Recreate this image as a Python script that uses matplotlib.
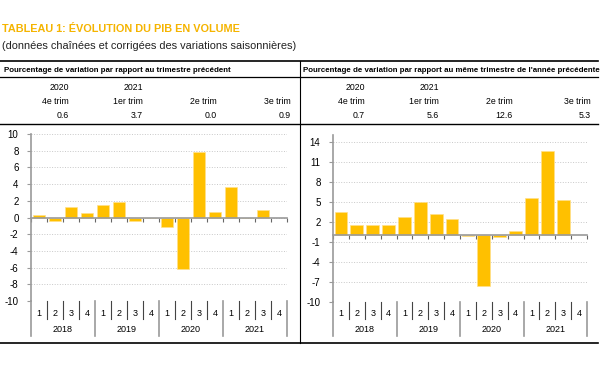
import numpy as np
import matplotlib
matplotlib.use("Agg")
import matplotlib.pyplot as plt
import matplotlib.transforms as mtransforms

# data
years = ["2018", "2019", "2020", "2021"]
quarters = ["1", "2", "3", "4"]
qoq = [0.3, -0.4, 1.2, 0.5, 1.5, 1.8, -0.4, -0.1, -1.1, -6.2, 7.8, 0.6, 3.7, 0.0, 0.9, np.nan]
yoy = [3.5, 1.6, 1.5, 1.6, 2.7, 4.9, 3.1, 2.5, -0.1, -7.6, -0.2, 0.7, 5.6, 12.6, 5.3, np.nan]

head_years = ["2020", "2021", "", ""]
head_trims = ["4e trim", "1er trim", "2e trim", "3e trim"]
head_qoq = ["0.6", "3.7", "0.0", "0.9"]
head_yoy = ["0.7", "5.6", "12.6", "5.3"]

W, H = 600, 382
plt.rcParams["font.family"] = ["Liberation Sans", "DejaVu Sans"]

fig = plt.figure(figsize=(W / 100, H / 100), dpi=100)


def fx(x):
    return x / W


def fy(y):
    return 1 - y / H


gold = "#F5B400"
bar_col = "#FFC000"
grey = "#9A9A9A"

fig.text(fx(2), fy(29), "TABLEAU 1: ÉVOLUTION DU PIB EN VOLUME", color=gold,
         fontsize=7.8, fontweight="bold", va="center", ha="left")
fig.text(fx(2), fy(46), "(données chaînées et corrigées des variations saisonnières)",
         color="#222222", fontsize=7.9, va="center", ha="left")

# table rules
for y, lw in [(61, 1.2), (77, 0.9), (124, 1.0), (343, 1.2)]:
    fig.add_artist(plt.Line2D([fx(0), fx(598)], [fy(y), fy(y)], color="black", lw=lw))
fig.add_artist(plt.Line2D([fx(300), fx(300)], [fy(61), fy(343)], color="black", lw=0.8))

fig.text(fx(4), fy(70), "Pourcentage de variation par rapport au trimestre précédent",
         fontsize=5.7, fontweight="bold", va="center", ha="left")
fig.text(fx(303), fy(70), "Pourcentage de variation par rapport au même trimestre de l'année précédente",
         fontsize=5.7, fontweight="bold", va="center", ha="left")

col_left = [69, 143, 217, 291]
col_right = [365, 439, 513, 591]
for cols, vals in [(col_left, head_qoq), (col_right, head_yoy)]:
    for c, yr, tr, v in zip(cols, head_years, head_trims, vals):
        fig.text(fx(c), fy(88), yr, fontsize=6.3, ha="right", va="center")
        fig.text(fx(c), fy(101), tr, fontsize=6.3, ha="right", va="center")
        fig.text(fx(c), fy(115), v, fontsize=6.3, ha="right", va="center")


def panel(rect, values, ylim, yticks):
    x0, x1, y0, y1 = rect
    ax = fig.add_axes([fx(x0), fy(y1), fx(x1 - x0), (y1 - y0) / H])
    x = np.arange(len(values))
    ax.bar(x, values, width=0.8, color=bar_col, edgecolor="#FFE08A", linewidth=0.5, zorder=3)
    ax.set_xlim(-0.5, len(values) - 0.5)
    ax.set_ylim(*ylim)
    ax.set_yticks(yticks)
    ax.set_yticklabels([str(t) for t in yticks], fontsize=7)
    ax.grid(axis="y", linestyle=":", color="#C8C8C8", linewidth=0.7)
    for s in ["top", "right"]:
        ax.spines[s].set_visible(False)
    ax.spines["left"].set_color(grey)
    ax.spines["left"].set_linewidth(1.2)
    ax.spines["bottom"].set_position(("data", 0))
    ax.spines["bottom"].set_color(grey)
    ax.spines["bottom"].set_linewidth(1.2)
    ax.spines["bottom"].set_zorder(4)
    ax.set_xticks(np.arange(len(values) + 1) - 0.5)
    ax.set_xticklabels([])
    ax.tick_params(axis="x", direction="out", length=3, color="#666666", width=0.8)
    ax.tick_params(axis="y", length=3, color=grey, pad=6)
    ax.set_facecolor("none")

    # category labels below axes
    tr = mtransforms.blended_transform_factory(ax.transData, fig.transFigure)
    for i in range(len(values)):
        ax.text(i, fy(313), quarters[i % 4], transform=tr, fontsize=6.5, ha="center", va="center")
    for j, yr in enumerate(years):
        ax.text(j * 4 + 1.5, fy(330), yr, transform=tr, fontsize=6.5, ha="center", va="center")
    for k in range(len(values) + 1):
        bottom = 336 if k % 4 == 0 else 319
        col = grey if k % 4 == 0 else "#444444"
        lw = 1.2 if k % 4 == 0 else 0.8
        ax.plot([k - 0.5, k - 0.5], [fy(y1), fy(bottom)], transform=tr, color=col,
                lw=lw, clip_on=False)
    return ax


panel((31, 287, 134, 301), qoq, (-10, 10), list(range(-10, 11, 2)))
panel((333, 587, 135, 302), yoy, (-10, 15), [-10, -7, -4, -1, 2, 5, 8, 11, 14])

fig.savefig("out.png", dpi=100)
